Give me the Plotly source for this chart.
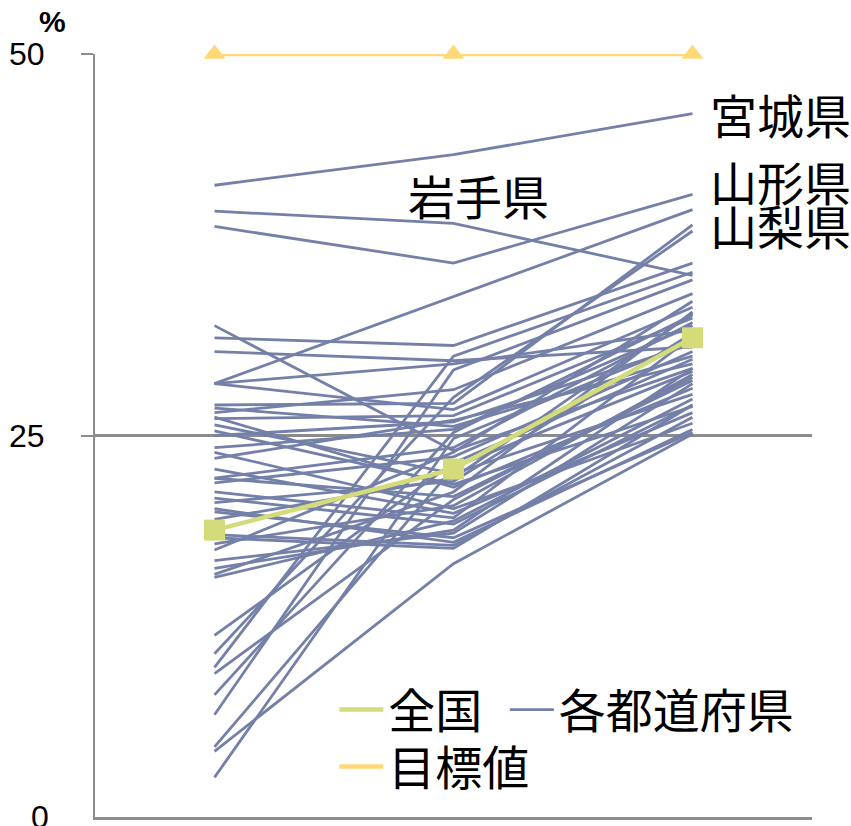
import plotly.graph_objects as go

# x positions (three survey points; no tick labels shown in the reference)
periods = [0, 1, 2]

# Prefecture values (left, middle, right) in %
pref_names = [
    "宮城県", "岩手県", "山形県", "山梨県", "p05", "p06", "p07", "p08", "p09", "p10",
    "p11", "p12", "p13", "p14", "p15", "p16", "p17", "p18", "p19", "p20",
    "p21", "p22", "p23", "p24", "p25", "p26", "p27", "p28", "p29", "p30",
    "p31", "p32", "p33", "p34", "p35", "p36", "p37", "p38", "p39", "p40",
    "p41", "p42", "p43", "p44", "p45", "p46", "p47",
]
pref_t1 = [41.4, 39.7, 38.7, 28.4, 32.2, 31.4, 30.5, 28.4, 28.4, 27.0,
           26.8, 26.2, 26.1, 25.7, 25.0, 23.5, 22.8, 22.2, 22.2, 21.9,
           20.9, 20.6, 20.2, 18.5, 17.9, 16.8, 15.9, 15.7, 11.9, 10.7,
           9.8, 9.4, 8.0, 6.7, 4.3, 2.6, 4.6, 26.5, 25.3, 24.2,
           23.9, 21.3, 20.0, 19.5, 18.3, 17.5, 16.3]
pref_t2 = [43.4, 38.9, 36.3, 34.1, 24.0, 30.9, 29.9, 29.7, 26.7, 27.1,
           25.6, 21.6, 26.3, 22.5, 25.9, 26.0, 19.9, 24.2, 21.0, 23.6,
           19.2, 22.0, 18.0, 17.8, 20.4, 18.6, 21.3, 19.4, 23.2, 27.5,
           30.2, 20.8, 25.2, 29.3, 16.6, 24.8, 22.9, 28.0, 21.8, 25.4,
           20.2, 19.6, 18.3, 22.2, 17.6, 23.9, 18.8]
pref_t3 = [46.1, 35.5, 40.8, 39.8, 29.4, 36.3, 30.8, 31.9, 33.4, 38.8,
           30.2, 28.1, 32.7, 27.7, 31.0, 29.7, 26.5, 32.4, 28.6, 30.5,
           27.0, 31.7, 25.4, 26.2, 29.0, 28.4, 33.1, 27.4, 30.0, 38.4,
           35.7, 28.8, 32.9, 35.2, 25.1, 31.2, 29.2, 34.3, 26.9, 32.2,
           25.8, 31.5, 25.2, 33.0, 27.0, 33.8, 29.4]

national = [18.8, 22.8, 31.4]
target = [50, 50, 50]

y_ticks = [25, 50]

BLUE = "#7480A8"
GREEN = "#D4DB7B"
YELLOW = "#FFD978"
GRID = "#8C8C8C"
CJK = "Noto Sans CJK JP"

fig = go.Figure()

for i, name in enumerate(pref_names):
    fig.add_trace(go.Scatter(
        x=periods, y=[pref_t1[i], pref_t2[i], pref_t3[i]],
        mode="lines", line=dict(color=BLUE, width=2.8),
        name="各都道府県", legendgroup="pref", showlegend=(i == 0),
        legend="legend2", hoverinfo="skip",
    ))

fig.add_trace(go.Scatter(
    x=periods, y=national, mode="lines+markers", name="全国",
    line=dict(color=GREEN, width=4.5),
    marker=dict(symbol="square", size=21, color=GREEN),
    showlegend=False, legendgroup="nat",
))
fig.add_trace(go.Scatter(
    x=[None], y=[None], mode="lines", name="全国",
    line=dict(color=GREEN, width=4.5), legend="legend", legendgroup="nat",
))

fig.add_trace(go.Scatter(
    x=periods, y=target, mode="lines+markers", name="目標値",
    line=dict(color=YELLOW, width=4.5),
    marker=dict(symbol="triangle-up", size=19, color=YELLOW),
    cliponaxis=False, showlegend=False, legendgroup="tgt",
))
fig.add_trace(go.Scatter(
    x=[None], y=[None], mode="lines", name="目標値",
    line=dict(color=YELLOW, width=4.5), legend="legend3", legendgroup="tgt",
))

label_font = dict(family=CJK, size=47, color="#000000")
annotations = [
    dict(x=2, y=46.1, text="宮城県", xanchor="left", yanchor="middle", xshift=16),
    dict(x=2, y=41.7, text="山形県", xanchor="left", yanchor="middle", xshift=16),
    dict(x=2, y=38.8, text="山梨県", xanchor="left", yanchor="middle", xshift=16),
    dict(x=1.104, y=40.8, text="岩手県", xanchor="center", yanchor="middle"),
]
for a in annotations:
    a.update(xref="x", yref="y", showarrow=False, font=label_font, borderpad=0)

annotations.append(dict(
    x=(50 - 93) / 719, y=(817 - 22) / 763, xref="paper", yref="paper",
    text="<b>%</b>", showarrow=False, xanchor="center", yanchor="middle",
    font=dict(family="Liberation Sans", size=30, color="#000000"),
))
annotations.append(dict(
    x=(49 - 93) / 719, y=0, xref="paper", yref="paper",
    text="0", showarrow=False, xanchor="right", yanchor="middle",
    font=dict(family="Liberation Sans", size=32, color="#000000"),
))

leg_font = dict(family=CJK, size=47, color="#000000")
leg_common = dict(xanchor="left", yanchor="middle", orientation="h",
                  font=leg_font, bgcolor="rgba(0,0,0,0)", itemwidth=44)
fig.update_layout(
    width=851, height=826,
    margin=dict(l=93, r=39, t=54, b=9),
    paper_bgcolor="white", plot_bgcolor="white",
    showlegend=True,
    xaxis=dict(
        range=[-0.5, 2.5], showticklabels=False, ticks="", showgrid=False,
        zeroline=False, showline=True, linecolor=GRID, linewidth=3,
    ),
    yaxis=dict(
        range=[0, 50], tickvals=y_ticks, ticktext=[str(v) for v in y_ticks],
        showgrid=True, gridcolor=GRID, gridwidth=2.5, zeroline=False,
        showline=True, linecolor=GRID, linewidth=2,
        ticks="outside", ticklen=12, tickcolor=GRID, tickwidth=2,
        tickfont=dict(family="Liberation Sans", size=32, color="#000000"),
        ticklabelstandoff=30,
    ),
    legend=dict(x=(333 - 93) / 719, y=(817 - 710) / 763, **leg_common),
    legend2=dict(x=(504 - 93) / 719, y=(817 - 710) / 763, **leg_common),
    legend3=dict(x=(333 - 93) / 719, y=(817 - 767) / 763, **leg_common),
    annotations=annotations,
)

fig.write_html("out.html")
